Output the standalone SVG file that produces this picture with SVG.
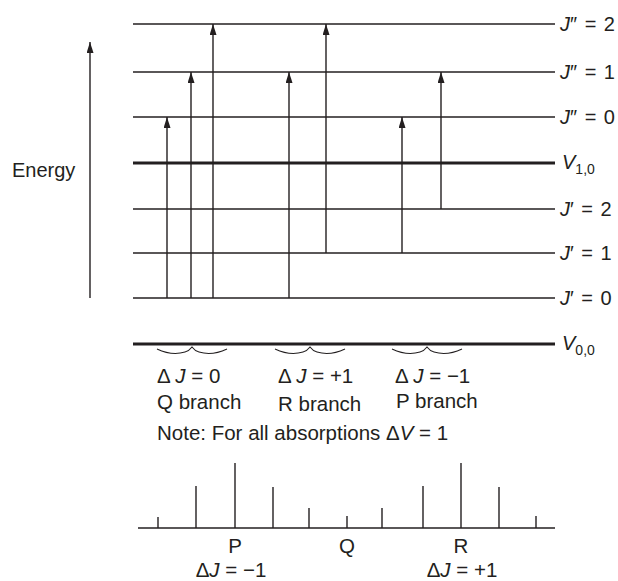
<svg xmlns="http://www.w3.org/2000/svg" width="618" height="581" viewBox="0 0 618 581">
<defs>
<marker id="ah" markerUnits="userSpaceOnUse" markerWidth="12" markerHeight="8" refX="11" refY="3.5" orient="auto">
<path d="M0,0 L11,3.5 L0,7 z" fill="#231f20"/>
</marker>
<style>
.lvl{stroke:#231f20;stroke-width:1.4;fill:none}
.thick{stroke:#231f20;stroke-width:3;fill:none}
.arr{stroke:#231f20;stroke-width:1.4;fill:none;marker-end:url(#ah)}
.tick{stroke:#231f20;stroke-width:1.4}
.brace{stroke:#231f20;stroke-width:1.1;fill:none}
text{font-family:"Liberation Sans",Arial,sans-serif;font-size:20.5px;fill:#231f20}
.en{font-size:20px}
.lab{font-size:20px;word-spacing:2px}
.sub{font-size:14px}
.it{font-style:italic}
</style>
</defs>
<rect width="618" height="581" fill="#fff"/>

<g id="energy-axis">
<line x1="90" y1="298" x2="90" y2="42" class="arr"/>
<text class="en" x="12" y="177">Energy</text>
</g>

<g id="levels">
<g id="level-J2pp"><line x1="133" y1="24" x2="555" y2="24" class="lvl"/><text class="lab" x="560" y="31"><tspan class="it">J</tspan>″ = 2</text></g>
<g id="level-J1pp"><line x1="133" y1="72" x2="555" y2="72" class="lvl"/><text class="lab" x="560" y="79"><tspan class="it">J</tspan>″ = 1</text></g>
<g id="level-J0pp"><line x1="133" y1="117" x2="555" y2="117" class="lvl"/><text class="lab" x="560" y="124"><tspan class="it">J</tspan>″ = 0</text></g>
<g id="level-V10"><line x1="133" y1="163" x2="555" y2="163" class="thick"/><text class="lab" x="562" y="169"><tspan class="it">V</tspan><tspan class="sub" dy="5">1,0</tspan></text></g>
<g id="level-J2p"><line x1="133" y1="209" x2="555" y2="209" class="lvl"/><text class="lab" x="560" y="216"><tspan class="it">J</tspan>′ = 2</text></g>
<g id="level-J1p"><line x1="133" y1="253" x2="555" y2="253" class="lvl"/><text class="lab" x="560" y="260"><tspan class="it">J</tspan>′ = 1</text></g>
<g id="level-J0p"><line x1="133" y1="298" x2="555" y2="298" class="lvl"/><text class="lab" x="560" y="305"><tspan class="it">J</tspan>′ = 0</text></g>
<g id="level-V00"><line x1="133" y1="344" x2="555" y2="344" class="thick"/><text class="lab" x="562" y="350"><tspan class="it">V</tspan><tspan class="sub" dy="5">0,0</tspan></text></g>
</g>

<g id="connectors">
<line x1="167" y1="298" x2="167" y2="117" class="arr"/>
<line x1="191" y1="298" x2="191" y2="72" class="arr"/>
<line x1="213" y1="298" x2="213" y2="24" class="arr"/>
<line x1="289" y1="298" x2="289" y2="72" class="arr"/>
<line x1="326" y1="253" x2="326" y2="24" class="arr"/>
<line x1="402" y1="253" x2="402" y2="117" class="arr"/>
<line x1="441" y1="209" x2="441" y2="72" class="arr"/>
</g>

<g id="branch-Q">
<path class="brace" d="M157,349 Q172,356 185,352 Q189,351 192,347 Q195,351 199,352 Q212,356 227,349"/>
<text x="157" y="383">Δ <tspan class="it">J</tspan> = 0</text>
<text x="157" y="409">Q branch</text>
</g>
<g id="branch-R">
<path class="brace" d="M275,349 Q290,356 303,352 Q307,351 310,347 Q313,351 317,352 Q330,356 345,349"/>
<text x="278" y="383">Δ <tspan class="it">J</tspan> = +1</text>
<text x="278" y="411">R branch</text>
</g>
<g id="branch-P">
<path class="brace" d="M392,349 Q407,356 420,352 Q424,351 427,347 Q430,351 434,352 Q447,356 462,349"/>
<text x="395" y="383">Δ <tspan class="it">J</tspan> = −1</text>
<text x="396" y="408">P branch</text>
</g>
<g id="note">
<text x="157" y="440">Note: For all absorptions Δ<tspan class="it">V</tspan> = 1</text>
</g>

<g id="spectrum">
<line x1="138" y1="528" x2="555" y2="528" class="tick"/>
<line x1="158" y1="528" x2="158" y2="517" class="tick"/>
<line x1="196" y1="528" x2="196" y2="486" class="tick"/>
<line x1="235" y1="528" x2="235" y2="463" class="tick"/>
<line x1="273" y1="528" x2="273" y2="487" class="tick"/>
<line x1="309" y1="528" x2="309" y2="508" class="tick"/>
<line x1="347" y1="528" x2="347" y2="516" class="tick"/>
<line x1="382" y1="528" x2="382" y2="508" class="tick"/>
<line x1="423" y1="528" x2="423" y2="486" class="tick"/>
<line x1="461" y1="528" x2="461" y2="463" class="tick"/>
<line x1="499" y1="528" x2="499" y2="487" class="tick"/>
<line x1="536" y1="528" x2="536" y2="516" class="tick"/>
<text x="235" y="553" text-anchor="middle">P</text>
<text x="347" y="553" text-anchor="middle">Q</text>
<text x="461" y="553" text-anchor="middle">R</text>
<text x="231" y="577" text-anchor="middle">Δ<tspan class="it">J</tspan> = −1</text>
<text x="462" y="577" text-anchor="middle">Δ<tspan class="it">J</tspan> = +1</text>
</g>
</svg>
